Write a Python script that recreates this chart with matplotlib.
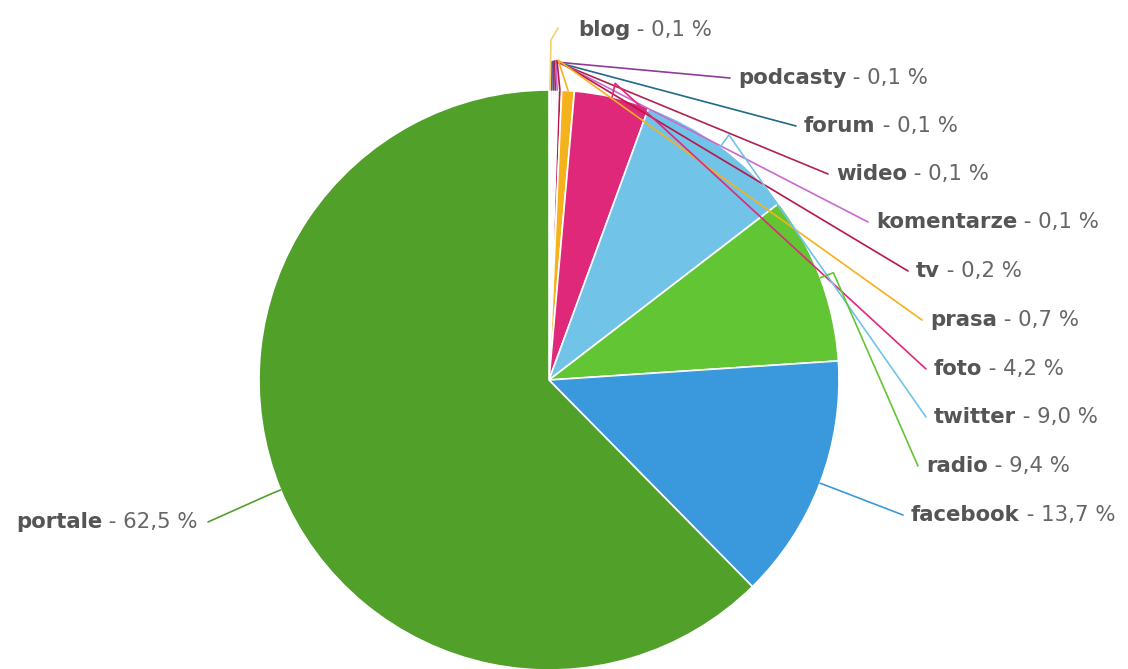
import numpy as np
import matplotlib
matplotlib.use("Agg")
import matplotlib.pyplot as plt

# ---- data ----
categories = ["blog", "podcasty", "forum", "wideo", "komentarze", "tv",
              "prasa", "foto", "twitter", "radio", "facebook", "portale"]
values = [0.1, 0.1, 0.1, 0.1, 0.1, 0.2, 0.7, 4.2, 9.0, 9.4, 13.7, 62.5]
value_labels = ["0,1 %", "0,1 %", "0,1 %", "0,1 %", "0,1 %", "0,2 %",
                "0,7 %", "4,2 %", "9,0 %", "9,4 %", "13,7 %", "62,5 %"]
colors = ["#f2d36b", "#8e3b9c", "#1f6b86", "#b0234f", "#c86ad0", "#b8174a",
          "#f5b21c", "#e0287a", "#72c3e8", "#62c634", "#3a99dc", "#50a02a"]

W, H = 1128, 669
fig = plt.figure(figsize=(W / 100, H / 100), dpi=100)
ax = fig.add_axes([0, 0, 1, 1])

cx, cy, R = 549, H - 380, 290
wedges, _ = ax.pie(values, colors=colors, startangle=90, counterclock=False,
                   center=(cx, cy), radius=R, frame=True,
                   wedgeprops=dict(edgecolor="white", linewidth=1.2))
ax.set_xlim(0, W)
ax.set_ylim(0, H)
ax.axis("off")

# label anchor positions (pixel coords, y from top)
label_pos = [(578, 30), (738, 78), (804, 126), (836, 174), (876, 222),
             (916, 271), (930, 320), (934, 369), (934, 417), (926, 466),
             (911, 515), (198, 522)]

FS = 15.3
total = sum(values)
cum = 0.0
for i, (cat, v) in enumerate(zip(categories, values)):
    mid = (cum + v / 2) / total
    cum += v
    ang = np.deg2rad(90 - 360 * mid)
    p0 = (cx + R * np.cos(ang), cy + R * np.sin(ang))
    lx, ly = label_pos[i]
    ly_d = H - ly
    if cat == "portale":
        p1 = (cx + (R + 10) * np.cos(ang), cy + (R + 10) * np.sin(ang))
        p2 = (lx + 10, ly_d)
        ha = "right"
    else:
        if v < 1.0:
            p1 = (551 + i * 1.2, H - 62 + i * 0.3)
        else:
            p1 = (cx + (R + 14) * np.cos(ang), cy + (R + 14) * np.sin(ang))
        p2 = (lx - 8, ly_d)
        ha = "left"
        if cat == "blog":
            p1 = (551, H - 40)
            p2 = (558, ly_d + 2)
    ax.plot([p0[0], p1[0], p2[0]], [p0[1], p1[1], p2[1]],
            color=colors[i], lw=1.2, solid_capstyle="round", zorder=3)

    if ha == "left":
        t = ax.text(lx, ly_d, cat, ha="left", va="center", fontsize=FS,
                    fontweight="bold", color="#555555", family="DejaVu Sans")
        ax.annotate(" - " + value_labels[i], xycoords=t, xy=(1, 0.5),
                    va="center", ha="left", fontsize=FS, color="#666666",
                    family="DejaVu Sans")
    else:
        t = ax.text(lx, ly_d, " - " + value_labels[i], ha="right", va="center",
                    fontsize=FS, color="#666666", family="DejaVu Sans")
        ax.annotate(cat, xycoords=t, xy=(0, 0.5), va="center", ha="right",
                    fontsize=FS, fontweight="bold", color="#555555",
                    family="DejaVu Sans")

fig.savefig("out.png", dpi=100)
